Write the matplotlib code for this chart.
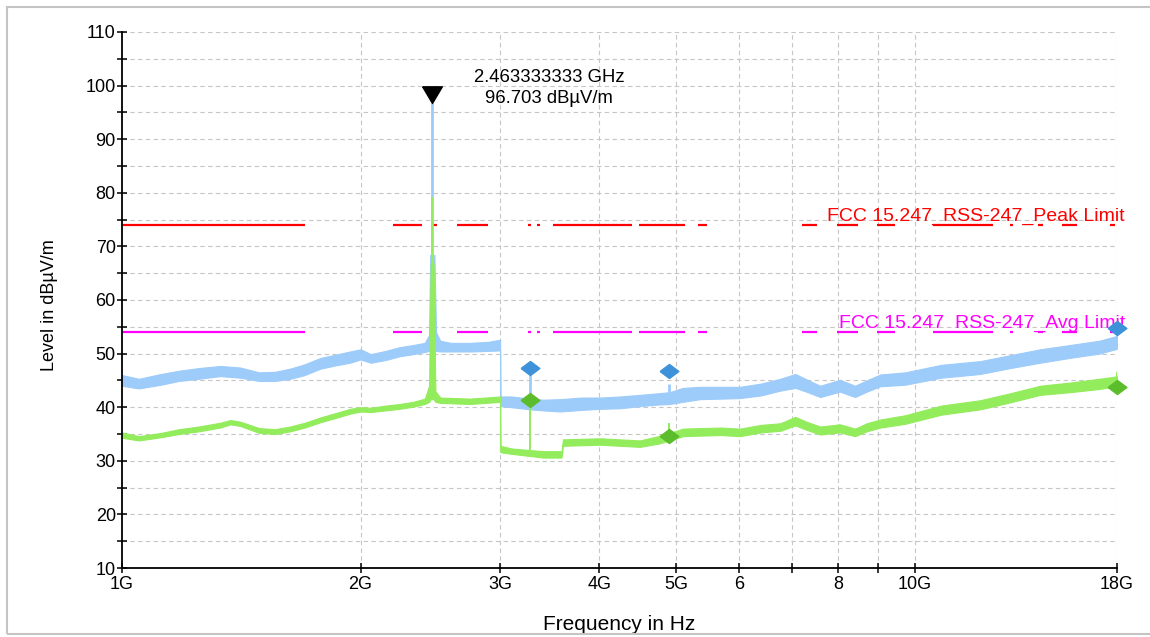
import numpy as np
import matplotlib
matplotlib.use("Agg")
import matplotlib.pyplot as plt
from matplotlib.patches import Rectangle
from matplotlib.ticker import FixedLocator, FixedFormatter

plt.rcParams['font.family'] = ['Liberation Sans', 'DejaVu Sans']

# ---- Peak detector sweep (envelope of the trace), GHz / dBµV/m ----
peak_freq_ghz = [1.00, 1.05, 1.12, 1.18, 1.25, 1.33, 1.41, 1.49, 1.56, 1.63,
                 1.70, 1.78, 1.86, 1.94, 2.00, 2.06, 2.15, 2.24, 2.33, 2.41,
                 2.44, 2.448, 2.478, 2.49, 2.52, 2.60, 2.75, 2.90, 2.999, 3.001,
                 3.10, 3.27, 3.40, 3.57, 3.80, 4.01, 4.25, 4.50, 4.75, 4.91,
                 5.10, 5.36, 5.70, 6.02, 6.40, 6.77, 7.07, 7.30, 7.60, 8.05,
                 8.41, 8.70, 9.05, 9.73, 10.8, 12.1, 13.2, 14.4, 15.7, 17.1,
                 17.9, 18.0]
peak_low = [44.0, 43.5, 44.2, 44.9, 45.3, 45.8, 45.5, 44.9, 44.9, 45.3,
            46.0, 47.2, 47.8, 48.3, 48.9, 48.3, 48.8, 49.5, 49.9, 50.3,
            50.5, 51.0, 51.0, 50.5, 50.4, 50.4, 50.4, 50.5, 50.6, 40.2,
            40.0, 39.6, 39.4, 39.2, 39.5, 39.7, 39.8, 40.2, 40.5, 40.6,
            41.0, 41.5, 41.6, 41.7, 42.2, 43.1, 43.6, 42.9, 41.9, 42.9,
            41.9, 42.9, 43.9, 44.2, 45.5, 46.2, 47.3, 48.3, 49.2, 50.0,
            50.8, 50.9]
peak_high = [46.0, 45.3, 46.2, 46.8, 47.3, 47.7, 47.4, 46.5, 46.6, 47.2,
             48.0, 49.2, 49.8, 50.4, 50.8, 49.9, 50.5, 51.2, 51.6, 52.0,
             53.5, 68.4, 68.4, 54.0, 52.4, 52.0, 52.0, 52.2, 52.6, 42.0,
             42.0, 41.6, 41.4, 41.5, 41.8, 41.8, 42.0, 42.3, 42.6, 42.8,
             43.6, 43.8, 43.8, 43.8, 44.4, 45.3, 46.2, 45.2, 44.0, 45.1,
             44.0, 45.0, 46.1, 46.5, 47.9, 48.6, 49.7, 50.8, 51.6, 52.4,
             53.2, 53.3]

# ---- Average detector sweep ----
avg_freq_ghz = [1.00, 1.05, 1.12, 1.18, 1.25, 1.33, 1.37, 1.41, 1.49, 1.56,
                1.63, 1.70, 1.78, 1.86, 1.94, 2.00, 2.06, 2.15, 2.24, 2.33,
                2.41, 2.44, 2.452, 2.472, 2.485, 2.52, 2.75, 2.999, 3.001, 3.10,
                3.27, 3.40, 3.585, 3.60, 4.01, 4.25, 4.50, 4.75, 4.91, 5.10,
                5.36, 5.70, 6.02, 6.40, 6.77, 7.07, 7.30, 7.60, 8.05, 8.41,
                8.70, 9.05, 9.73, 10.8, 12.1, 13.2, 14.4, 15.7, 17.1, 17.9,
                18.0]
avg_low = [34.3, 33.8, 34.4, 35.0, 35.5, 36.2, 36.8, 36.5, 35.2, 35.0,
           35.5, 36.2, 37.2, 38.0, 38.8, 39.2, 39.1, 39.4, 39.7, 40.1,
           40.6, 41.0, 41.5, 41.5, 41.0, 40.8, 40.6, 41.0, 31.6, 31.3,
           30.9, 30.6, 30.6, 32.8, 33.0, 32.8, 32.6, 33.2, 33.8, 34.6,
           34.7, 34.8, 34.6, 35.3, 35.6, 36.6, 35.8, 34.9, 35.3, 34.6,
           35.5, 36.2, 36.9, 38.6, 39.6, 40.9, 42.3, 42.8, 43.4, 43.9,
           44.0]
avg_high = [35.3, 34.6, 35.2, 35.9, 36.4, 37.1, 37.6, 37.3, 36.1, 35.9,
            36.4, 37.1, 38.1, 38.9, 39.7, 40.0, 39.9, 40.3, 40.6, 41.0,
            41.6, 44.0, 66.9, 66.9, 43.0, 41.8, 41.6, 42.0, 32.8, 32.3,
            32.0, 31.8, 31.8, 34.0, 34.2, 34.0, 33.8, 34.6, 35.2, 36.0,
            36.1, 36.2, 36.0, 36.7, 37.0, 38.2, 37.3, 36.4, 36.8, 36.0,
            37.0, 37.7, 38.5, 40.3, 41.3, 42.6, 44.0, 44.6, 45.3, 45.7,
            45.8]

# ---- Narrow spikes on top of the sweeps ----
peak_spike_ghz = [2.463333333, 3.272, 4.898, 18.0]
peak_spike_top = [96.703, 46.0, 44.3, 55.0]
avg_spike_ghz = [2.463333333, 3.272, 4.898, 18.0]
avg_spike_top = [79.2, 41.3, 37.0, 46.5]

# ---- Final measurement points ----
final_freq_ghz = [3.272, 4.898, 18.0]
final_peak = [47.3, 46.75, 54.8]
final_avg = [41.3, 34.6, 43.8]

# ---- Marker ----
marker_freq_hz = 2.463333333e9
marker_level = 96.703

# ---- Limits ----
peak_limit = 74.0
avg_limit = 54.0
peak_limit_label = "FCC 15.247_RSS-247_Peak Limit"
avg_limit_label = "FCC 15.247_RSS-247_Avg Limit"

# ---- Axes ----
x_tick_ghz = [1, 2, 3, 4, 5, 6, 7, 8, 9, 10, 18]
x_tick_labels = ['1G', '2G', '3G', '4G', '5G', '6', '', '8', '', '10G', '18G']
y_major = list(range(10, 111, 10))
y_minor = list(range(15, 110, 10))

# visible pieces of the limit lines (GHz)
LIMIT_PIECES = [(1.0, 1.702), (2.198, 2.391), (2.469, 2.497), (2.646, 2.896),
                (3.253, 3.281), (3.339, 3.368), (3.499, 4.401), (4.491, 5.132),
                (5.330, 5.471), (7.21, 7.53), (7.98, 8.48), (8.97, 9.45),
                (10.55, 12.56), (13.2, 13.31), (14.31, 14.52), (15.35, 16.03),
                (17.64, 17.9)]

BLUE = '#9dcbfa'
GREEN = '#93ec5c'
BLUE_MK = '#3d92da'
GREEN_MK = '#5cbd2c'
GRID = '#c6c6c6'

fig = plt.figure(figsize=(11.5, 6.37), dpi=100)
ax = fig.add_axes([0.1061, 0.1083, 0.8652, 0.8415])

ax.set_xscale('log')
ax.set_xlim(1e9, 18e9)
ax.set_ylim(10, 110)

# grid
for g in x_tick_ghz[1:]:
    ax.axvline(g * 1e9, color=GRID, lw=0.8, ls=(0, (4, 3)), zorder=0)
for v in y_major[1:] + y_minor:
    ax.axhline(v, color=GRID, lw=0.8, ls=(0, (4, 3)), zorder=0)

# limit lines
for lim, col in ((peak_limit, '#ff0000'), (avg_limit, '#ff00ff')):
    ax.hlines([lim] * len(LIMIT_PIECES),
              [a * 1e9 for a, b in LIMIT_PIECES],
              [b * 1e9 for a, b in LIMIT_PIECES],
              color=col, lw=1.6, zorder=2)

def band(freq_ghz, lo, hi, color, z):
    f = np.array(freq_ghz) * 1e9
    ax.fill_between(f, lo, hi, color=color, lw=0.8, edgecolor=color, zorder=z)

def spikes(freq_ghz, top, band_f, band_lo, color, z, lw):
    lf = np.log10(np.array(band_f))
    for f, t in zip(freq_ghz, top):
        bottom = np.interp(np.log10(f), lf, band_lo)
        ax.vlines(f * 1e9, bottom, t, color=color, lw=lw, zorder=z)

band(peak_freq_ghz, peak_low, peak_high, BLUE, 3)
spikes(peak_spike_ghz, peak_spike_top, peak_freq_ghz, peak_low, BLUE, 3, 2.0)
band(avg_freq_ghz, avg_low, avg_high, GREEN, 4)
spikes(avg_spike_ghz, avg_spike_top, avg_freq_ghz, avg_low, GREEN, 4, 1.4)

# final measurement diamonds
diamond = [(-1, 0), (0, 0.75), (1, 0), (0, -0.75), (-1, 0)]
fq = np.array(final_freq_ghz) * 1e9
ax.plot(fq, final_peak, ls='none', marker=diamond, ms=13.5, color=BLUE_MK,
        zorder=6, clip_on=False)
ax.plot(fq, final_avg, ls='none', marker=diamond, ms=13.5, color=GREEN_MK,
        zorder=6, clip_on=False)

# peak marker: downward triangle with its tip on the trace maximum
tri = [(-0.59, 1.0), (0.59, 1.0), (0, 0), (-0.59, 1.0)]
ax.plot([marker_freq_hz], [marker_level], ls='none', marker=tri, ms=24,
        color='black', zorder=7, clip_on=False)
ax.annotate(f"{marker_freq_hz / 1e9:.9f} GHz\n{marker_level:.3f} dBµV/m",
            xy=(marker_freq_hz, marker_level), xytext=(84, 11),
            textcoords='offset points', ha='center', va='center',
            fontsize=13.3, linespacing=1.25, zorder=8)

# limit labels
ytr = ax.get_yaxis_transform()
ax.annotate(peak_limit_label, xy=(1.008, peak_limit), xycoords=ytr,
            xytext=(0, 3), textcoords='offset points', ha='right',
            va='baseline', color='#ff0000', fontsize=14, zorder=5)
ax.annotate(avg_limit_label, xy=(1.008, avg_limit), xycoords=ytr,
            xytext=(0, 3), textcoords='offset points', ha='right',
            va='baseline', color='#ff00ff', fontsize=14, zorder=5)

# axes styling
for s in ('top', 'right'):
    ax.spines[s].set_visible(False)
for s in ('left', 'bottom'):
    ax.spines[s].set_linewidth(1.3)
    ax.spines[s].set_zorder(9)

ax.xaxis.set_major_locator(FixedLocator([g * 1e9 for g in x_tick_ghz]))
ax.xaxis.set_major_formatter(FixedFormatter(x_tick_labels))
ax.xaxis.set_minor_locator(FixedLocator([]))
ax.yaxis.set_major_locator(FixedLocator(y_major))
ax.yaxis.set_minor_locator(FixedLocator(y_minor))
ax.tick_params(axis='both', which='both', direction='inout', length=7,
               width=1.1, labelsize=13)
ax.tick_params(axis='x', pad=2)
ax.tick_params(axis='y', pad=1)

ax.set_xlabel('Frequency in Hz', fontsize=15)
ax.set_ylabel('Level in dBµV/m', fontsize=13)
ax.xaxis.set_label_coords(0.5, -0.088)
ax.yaxis.set_label_coords(-0.064, 0.49)

# outer frame of the figure
fig.patches.append(Rectangle((0.0061, 0.0047), 1.2, 0.9843,
                             transform=fig.transFigure, fill=False,
                             edgecolor='#c4c4c4', lw=1.5))

fig.savefig('out.png', dpi=100)
